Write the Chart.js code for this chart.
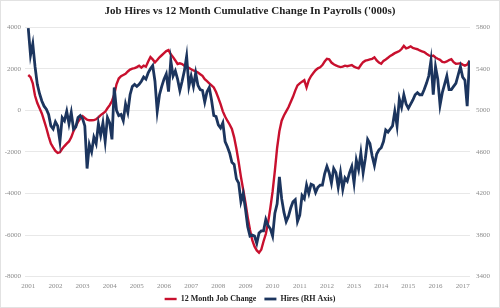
<!DOCTYPE html>
<html>
<head>
<meta charset="utf-8">
<script src="https://cdn.jsdelivr.net/npm/chart.js@4"></script>
<style>
  html, body { margin: 0; padding: 0; background: #fff; }
  #wrap { width: 500px; height: 308px; }
</style>
</head>
<body>
<div id="wrap"><canvas id="chart" width="500" height="308"></canvas></div>
<script>
// ===== data (monthly, from Jan 2001) =====
const years = [2001, 2002, 2003, 2004, 2005, 2006, 2007, 2008, 2009, 2010, 2011, 2012, 2013, 2014, 2015, 2016, 2017];

// 12 month cumulative change in payrolls ('000s), left axis
const jobChange = [
  1700, 1600, 1300, 700, 350, 100, -150, -500, -850, -1250,
  -1600, -1780, -1950, -2050, -2020, -1850, -1720, -1600, -1500, -1300,
  -1000, -780, -550, -400, -280, -370, -450, -480, -480, -470,
  -430, -340, -230, -150, -70, 100, 250, 450, 750, 1250,
  1530, 1640, 1700, 1760, 1870, 1960, 2010, 2030, 2080, 2150,
  2050, 2150, 2100, 2350, 2560, 2450, 2310, 2420, 2550, 2650,
  2750, 2850, 2900, 2700, 2560, 2400, 2230, 2260, 2230, 2150,
  2080, 2040, 1980, 1920, 1880, 1820, 1740, 1660, 1500, 1400,
  1300, 1200, 1100, 880, 600, 300, -50, -300, -500, -680,
  -900, -1300, -1850, -2500, -3200, -3820, -4450, -5150, -5750, -6250,
  -6550, -6740, -6850, -6700, -6300, -5950, -5400, -4700, -3900, -2900,
  -1800, -1000, -500, -250, -50, 150, 400, 650, 950, 1200,
  1300, 1380, 1450, 1100, 1450, 1650, 1800, 1930, 2020, 2070,
  2180, 2350, 2480, 2450, 2300, 2220, 2160, 2110, 2080, 2100,
  2150, 2120, 2150, 2180, 2100, 2050, 2020, 2180, 2320, 2390,
  2420, 2450, 2480, 2550, 2400, 2300, 2240, 2380, 2450, 2530,
  2620, 2680, 2750, 2800, 2850, 2950, 3100, 2980, 3020, 3080,
  3000, 2970, 2940, 2880, 2840, 2800, 2720, 2650, 2600, 2630,
  2540, 2480, 2430, 2330, 2310, 2350, 2420, 2460, 2320, 2240,
  2250, 2270, 2200, 2150, 2200, 2380
];

// job hires ('000s), right axis
const hires = [
  5790, 5530, 5640, 5420, 5250, 5160, 5090, 5040, 5010, 4960,
  4850, 4820, 4890, 4850, 4700, 4930, 4900, 4990, 4870, 4980,
  4820, 4840, 4930, 4950, 4920, 4850, 4440, 4670, 4600, 4740,
  4680, 4870, 4760, 4880, 4700, 4930, 4880, 4720, 5220, 5000,
  4950, 4960, 4900, 5060, 4980, 5150, 5230, 5250, 5230, 5250,
  5280, 5320, 5300, 5360, 5400, 5430, 5280, 4990, 5150, 5230,
  5300, 5350, 5180, 5480, 5330, 5380, 5300, 5190, 5280, 5380,
  5520, 5230, 5330, 5230, 5360, 5240, 5200, 5190, 5080, 5180,
  5220, 5100, 4950, 4940, 4860, 4830, 4880, 4700, 4650, 4590,
  4500, 4480, 4340, 4300, 4120, 4200, 4050, 3880, 3790, 3800,
  3790, 3720, 3820, 3840, 3840, 3950, 3890, 3860, 3790, 4010,
  4100, 4360, 4150, 4020, 3930, 3980, 4060, 4120, 4140, 3930,
  3990, 4180, 4150, 4280, 4200, 4290, 4280, 4210, 4260, 4280,
  4280, 4390, 4460, 4400, 4300, 4440, 4400, 4260, 4400, 4240,
  4350, 4320, 4400, 4460, 4300, 4520, 4430, 4590, 4400, 4540,
  4720, 4680, 4560, 4470, 4580, 4620, 4640, 4700, 4810, 4790,
  4820, 4850, 4990, 4850, 5110, 5030, 5150, 5060, 5020, 5060,
  5100, 5150, 5170, 5150, 5150, 5200, 5260, 5330, 5480, 5150,
  5420, 5300, 5050, 5170, 5250, 5330, 5200, 5200, 5230, 5260,
  5340, 5420, 5320, 5290, 5040, 5480
];

// ===== helper =====
function toPoints(arr) {
  return arr.map((v, i) => ({ x: years[0] + i / 12, y: v }));
}

const serif = "'Liberation Serif', 'Times New Roman', serif";
const tickColor = "#8c8c8c";

// white background + thin frame
const frame = {
  id: "frame",
  beforeDraw(chart) {
    const c = chart.ctx;
    c.save();
    c.fillStyle = "#fff";
    c.fillRect(0, 0, chart.width, chart.height);
    c.strokeStyle = "#e2e2e2";
    c.lineWidth = 1;
    c.strokeRect(0.5, 0.5, chart.width - 1, chart.height - 1);
    c.restore();
  }
};

new Chart(document.getElementById("chart"), {
  type: "line",
  data: {
    datasets: [
      {
        label: "12 Month Job Change",
        data: toPoints(jobChange),
        yAxisID: "yL",
        borderColor: "#c8102e",
        backgroundColor: "#c8102e",
        borderWidth: 2.4,
        pointRadius: 0,
        order: 1
      },
      {
        label: "Hires (RH Axis)",
        data: toPoints(hires),
        yAxisID: "yR",
        borderColor: "#1c355e",
        backgroundColor: "#1c355e",
        borderWidth: 2.8,
        pointRadius: 0,
        order: 0
      }
    ]
  },
  options: {
    responsive: false,
    animation: false,
    layout: { padding: { left: 0, right: 0, top: 0, bottom: -5 } },
    plugins: {
      title: {
        display: true,
        text: "Job Hires vs 12 Month Cumulative Change In Payrolls ('000s)",
        color: "#222",
        font: { family: serif, size: 11, weight: "bold" },
        padding: { top: 5, bottom: 9 }
      },
      legend: {
        position: "bottom",
        labels: {
          usePointStyle: true,
          pointStyle: "line",
          pointStyleWidth: 12,
          boxHeight: 8,
          padding: 0,
          color: "#222",
          font: { family: serif, size: 8, weight: "bold" },
          sort: (a, b) => a.datasetIndex - b.datasetIndex,
          // spacing after the first entry (padding is kept at 0 for the layout)
          generateLabels: chart =>
            Chart.defaults.plugins.legend.labels.generateLabels(chart)
              .map(l => l.datasetIndex === 0 ? { ...l, text: l.text + "\u2002\u2002" } : l)
        }
      },
      tooltip: { enabled: false }
    },
    scales: {
      x: {
        type: "linear",
        min: 2000.88,
        max: 2017.27,
        grid: { display: false, drawTicks: false },
        border: { display: false },
        afterBuildTicks: s => { s.ticks = years.map(v => ({ value: v })); },
        ticks: {
          color: tickColor,
          padding: 5,
          maxRotation: 0,
          autoSkip: false,
          font: { family: serif, size: 7 },
          callback: v => String(v)
        }
      },
      yL: {
        position: "left",
        min: -8000,
        max: 4000,
        grid: { color: "#e8e8e8", drawTicks: false },
        border: { display: false },
        afterFit: s => { s.width = 25; },
        ticks: {
          stepSize: 2000,
          color: tickColor,
          padding: 4,
          font: { family: serif, size: 7 },
          callback: v => String(v)
        }
      },
      yR: {
        position: "right",
        min: 3400,
        max: 5800,
        grid: { display: false, drawTicks: false },
        border: { display: false },
        afterFit: s => { s.width = 30; },
        ticks: {
          stepSize: 400,
          color: tickColor,
          padding: 6,
          font: { family: serif, size: 7 },
          callback: v => String(v)
        }
      }
    }
  },
  plugins: [frame]
});
</script>
</body>
</html>
